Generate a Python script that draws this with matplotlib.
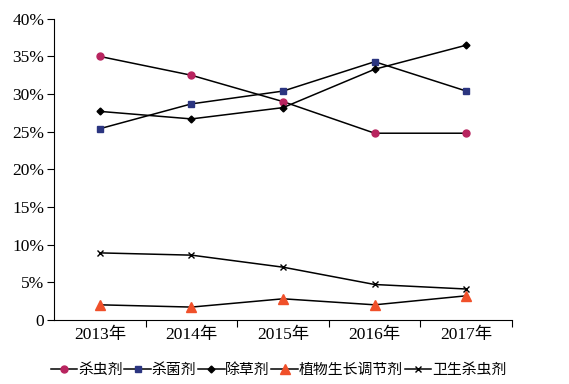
import matplotlib
matplotlib.use("Agg")
import matplotlib.pyplot as plt
from matplotlib.ticker import FixedLocator, FixedFormatter

plt.rcParams['font.family'] = ['Liberation Serif', 'Noto Sans CJK SC']

years = ["2013年", "2014年", "2015年", "2016年", "2017年"]
shachong = [35.0, 32.5, 29.0, 24.8, 24.8]
shajun = [25.4, 28.7, 30.4, 34.3, 30.4]
chucao = [27.7, 26.7, 28.2, 33.3, 36.5]
tiaojie = [2.0, 1.7, 2.8, 2.0, 3.2]
weisheng = [8.9, 8.6, 7.0, 4.7, 4.1]

series = [
    ("杀虫剂", shachong, dict(marker='o', ms=5, mfc='#B8245F', mec='#B8245F')),
    ("杀菌剂", shajun, dict(marker='s', ms=5, mfc='#2B3580', mec='#2B3580')),
    ("除草剂", chucao, dict(marker='D', ms=3.5, mfc='black', mec='black')),
    ("植物生长调节剂", tiaojie, dict(marker='^', ms=7, mfc='#F0502A', mec='#F0502A')),
    ("卫生杀虫剂", weisheng, dict(marker='x', ms=4.5, mec='black', mew=1)),
]

fig = plt.figure(figsize=(5.69, 3.84), dpi=100)
ax = fig.add_axes([0.095, 0.167, 0.805, 0.784])

xs = [i + 0.5 for i in range(len(years))]
for name, vals, style in series:
    ax.plot(xs, vals, color='black', lw=1.1, label=name, **style)

ax.set_xlim(0, len(years))
ax.set_ylim(0, 40)
ax.spines['top'].set_visible(False)
ax.spines['right'].set_visible(False)

ax.set_yticks(range(0, 41, 5))
ax.set_yticklabels(["0"] + ["%d%%" % v for v in range(5, 41, 5)], fontsize=12.5)

ax.xaxis.set_major_locator(FixedLocator(range(1, len(years) + 1)))
ax.xaxis.set_major_formatter(FixedFormatter([""] * len(years)))
ax.xaxis.set_minor_locator(FixedLocator(xs))
ax.xaxis.set_minor_formatter(FixedFormatter(years))
ax.tick_params(axis='x', which='minor', length=0, labelsize=12.5, pad=5)
ax.tick_params(axis='x', which='major', length=5, direction='out')
ax.tick_params(axis='y', length=5, direction='out', pad=2)

ax.legend(loc='upper center', bbox_to_anchor=(0.49, -0.145), ncol=5, frameon=False,
          fontsize=10.7, handlelength=1.8, handletextpad=0.05, columnspacing=0.1,
          borderaxespad=0, borderpad=0)

fig.savefig("out.png", dpi=100)
